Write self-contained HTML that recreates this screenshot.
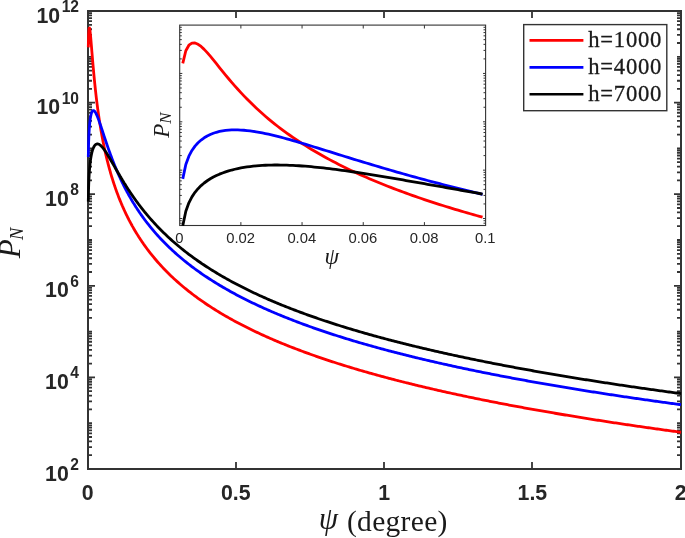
<!DOCTYPE html>
<html lang="en"><head><meta charset="utf-8"><title>P_N versus psi</title>
<style>html,body{margin:0;padding:0;background:#fff}svg{display:block}.tk{font-family:"Liberation Sans",Arial,sans-serif;font-weight:bold;font-size:21.3px;fill:#262626}.sup{font-size:15.6px}.itk{font-family:"Liberation Sans",Arial,sans-serif;font-size:14.8px;fill:#262626}.ser{font-family:"Liberation Serif","DejaVu Serif",serif;fill:#1a1a1a}</style></head><body>
<svg width="685" height="538" viewBox="0 0 685 538">
<rect width="685" height="538" fill="#fff"/>
<path d="M88.00,455.21 h4.00 M681.00,455.21 h-4.00 M88.00,447.15 h4.00 M681.00,447.15 h-4.00 M88.00,441.43 h4.00 M681.00,441.43 h-4.00 M88.00,436.99 h4.00 M681.00,436.99 h-4.00 M88.00,433.36 h4.00 M681.00,433.36 h-4.00 M88.00,430.29 h4.00 M681.00,430.29 h-4.00 M88.00,427.64 h4.00 M681.00,427.64 h-4.00 M88.00,425.30 h4.00 M681.00,425.30 h-4.00 M88.00,423.20 h4.00 M681.00,423.20 h-4.00 M88.00,409.41 h4.00 M681.00,409.41 h-4.00 M88.00,401.35 h4.00 M681.00,401.35 h-4.00 M88.00,395.63 h4.00 M681.00,395.63 h-4.00 M88.00,391.19 h4.00 M681.00,391.19 h-4.00 M88.00,387.56 h4.00 M681.00,387.56 h-4.00 M88.00,384.49 h4.00 M681.00,384.49 h-4.00 M88.00,381.84 h4.00 M681.00,381.84 h-4.00 M88.00,379.50 h4.00 M681.00,379.50 h-4.00 M88.00,377.40 h7.00 M681.00,377.40 h-7.00 M88.00,363.61 h4.00 M681.00,363.61 h-4.00 M88.00,355.55 h4.00 M681.00,355.55 h-4.00 M88.00,349.83 h4.00 M681.00,349.83 h-4.00 M88.00,345.39 h4.00 M681.00,345.39 h-4.00 M88.00,341.76 h4.00 M681.00,341.76 h-4.00 M88.00,338.69 h4.00 M681.00,338.69 h-4.00 M88.00,336.04 h4.00 M681.00,336.04 h-4.00 M88.00,333.70 h4.00 M681.00,333.70 h-4.00 M88.00,331.60 h4.00 M681.00,331.60 h-4.00 M88.00,317.81 h4.00 M681.00,317.81 h-4.00 M88.00,309.75 h4.00 M681.00,309.75 h-4.00 M88.00,304.03 h4.00 M681.00,304.03 h-4.00 M88.00,299.59 h4.00 M681.00,299.59 h-4.00 M88.00,295.96 h4.00 M681.00,295.96 h-4.00 M88.00,292.89 h4.00 M681.00,292.89 h-4.00 M88.00,290.24 h4.00 M681.00,290.24 h-4.00 M88.00,287.90 h4.00 M681.00,287.90 h-4.00 M88.00,285.80 h7.00 M681.00,285.80 h-7.00 M88.00,272.01 h4.00 M681.00,272.01 h-4.00 M88.00,263.95 h4.00 M681.00,263.95 h-4.00 M88.00,258.23 h4.00 M681.00,258.23 h-4.00 M88.00,253.79 h4.00 M681.00,253.79 h-4.00 M88.00,250.16 h4.00 M681.00,250.16 h-4.00 M88.00,247.09 h4.00 M681.00,247.09 h-4.00 M88.00,244.44 h4.00 M681.00,244.44 h-4.00 M88.00,242.10 h4.00 M681.00,242.10 h-4.00 M88.00,240.00 h4.00 M681.00,240.00 h-4.00 M88.00,226.21 h4.00 M681.00,226.21 h-4.00 M88.00,218.15 h4.00 M681.00,218.15 h-4.00 M88.00,212.43 h4.00 M681.00,212.43 h-4.00 M88.00,207.99 h4.00 M681.00,207.99 h-4.00 M88.00,204.36 h4.00 M681.00,204.36 h-4.00 M88.00,201.29 h4.00 M681.00,201.29 h-4.00 M88.00,198.64 h4.00 M681.00,198.64 h-4.00 M88.00,196.30 h4.00 M681.00,196.30 h-4.00 M88.00,194.20 h7.00 M681.00,194.20 h-7.00 M88.00,180.41 h4.00 M681.00,180.41 h-4.00 M88.00,172.35 h4.00 M681.00,172.35 h-4.00 M88.00,166.63 h4.00 M681.00,166.63 h-4.00 M88.00,162.19 h4.00 M681.00,162.19 h-4.00 M88.00,158.56 h4.00 M681.00,158.56 h-4.00 M88.00,155.49 h4.00 M681.00,155.49 h-4.00 M88.00,152.84 h4.00 M681.00,152.84 h-4.00 M88.00,150.50 h4.00 M681.00,150.50 h-4.00 M88.00,148.40 h4.00 M681.00,148.40 h-4.00 M88.00,134.61 h4.00 M681.00,134.61 h-4.00 M88.00,126.55 h4.00 M681.00,126.55 h-4.00 M88.00,120.83 h4.00 M681.00,120.83 h-4.00 M88.00,116.39 h4.00 M681.00,116.39 h-4.00 M88.00,112.76 h4.00 M681.00,112.76 h-4.00 M88.00,109.69 h4.00 M681.00,109.69 h-4.00 M88.00,107.04 h4.00 M681.00,107.04 h-4.00 M88.00,104.70 h4.00 M681.00,104.70 h-4.00 M88.00,102.60 h7.00 M681.00,102.60 h-7.00 M88.00,88.81 h4.00 M681.00,88.81 h-4.00 M88.00,80.75 h4.00 M681.00,80.75 h-4.00 M88.00,75.03 h4.00 M681.00,75.03 h-4.00 M88.00,70.59 h4.00 M681.00,70.59 h-4.00 M88.00,66.96 h4.00 M681.00,66.96 h-4.00 M88.00,63.89 h4.00 M681.00,63.89 h-4.00 M88.00,61.24 h4.00 M681.00,61.24 h-4.00 M88.00,58.90 h4.00 M681.00,58.90 h-4.00 M88.00,56.80 h4.00 M681.00,56.80 h-4.00 M88.00,43.01 h4.00 M681.00,43.01 h-4.00 M88.00,34.95 h4.00 M681.00,34.95 h-4.00 M88.00,29.23 h4.00 M681.00,29.23 h-4.00 M88.00,24.79 h4.00 M681.00,24.79 h-4.00 M88.00,21.16 h4.00 M681.00,21.16 h-4.00 M88.00,18.09 h4.00 M681.00,18.09 h-4.00 M88.00,15.44 h4.00 M681.00,15.44 h-4.00 M88.00,13.10 h4.00 M681.00,13.10 h-4.00 M236.00,469.00 v-7.00 M236.00,11.00 v7.00 M384.00,469.00 v-7.00 M384.00,11.00 v7.00 M532.00,469.00 v-7.00 M532.00,11.00 v7.00" stroke="#333333" stroke-width="1.80" fill="none"/>
<rect x="88.00" y="11.00" width="593.00" height="458.00" fill="none" stroke="#333333" stroke-width="2"/>
<g fill="none" stroke-width="2.8" stroke-linejoin="round" stroke-linecap="butt">
<path d="M88.30,47.40 L88.59,35.37 L88.89,30.11 L89.19,28.06 L89.48,27.98 L89.78,29.21 L90.08,31.33 L90.37,34.05 L90.67,37.18 L90.97,40.55 L91.26,44.08 L91.56,47.68 L91.85,51.30 L92.15,54.90 L92.45,58.46 L92.74,61.96 L93.04,65.38 L93.34,68.72 L93.63,71.98 L93.93,75.15 L94.23,78.24 L94.52,81.24 L94.82,84.16 L95.12,87.00 L95.41,89.76 L95.71,92.44 L96.01,95.05 L96.30,97.59 L96.60,100.06 L96.89,102.46 L97.19,104.81 L97.49,107.09 L97.78,109.32 L98.08,111.49 L98.38,113.61 L98.67,115.68 L98.97,117.70 L99.27,119.68 L99.56,121.61 L99.86,123.49 L100.16,125.34 L100.45,127.15 L100.75,128.92 L101.05,130.65 L101.34,132.35 L101.64,134.02 L101.94,135.65 L102.23,137.25 L102.53,138.82 L102.83,140.37 L103.12,141.88 L103.42,143.37 L103.71,144.83 L104.01,146.26 L104.31,147.67 L104.60,149.06 L104.90,150.42 L105.20,151.77 L105.49,153.09 L105.79,154.38 L106.09,155.66 L106.38,156.92 L106.68,158.16 L106.98,159.38 L107.27,160.59 L107.57,161.77 L107.87,162.94 L108.16,164.10 L108.46,165.23 L108.75,166.35 L109.05,167.46 L109.35,168.55 L109.64,169.63 L109.94,170.69 L110.24,171.74 L110.53,172.77 L110.83,173.79 L111.13,174.80 L111.42,175.80 L111.72,176.79 L112.02,177.76 L112.31,178.72 L112.61,179.67 L112.91,180.61 L113.20,181.54 L113.50,182.45 L113.80,183.36 L114.09,184.26 L114.39,185.15 L114.69,186.02 L114.98,186.89 L115.28,187.75 L115.57,188.60 L115.87,189.44 L116.17,190.27 L116.46,191.10 L116.76,191.91 L117.06,192.72 L117.35,193.52 L117.65,194.31 L117.95,195.09 L118.24,195.87 L118.54,196.64 L118.84,197.40 L119.13,198.16 L119.43,198.90 L119.73,199.64 L120.02,200.38 L120.32,201.10 L120.62,201.82 L120.91,202.54 L121.21,203.25 L121.50,203.95 L121.80,204.64 L122.10,205.33 L122.39,206.02 L122.69,206.69 L122.99,207.37 L123.28,208.03 L123.58,208.69 L123.88,209.35 L124.17,210.00 L124.47,210.64 L124.77,211.28 L125.06,211.92 L125.36,212.55 L125.66,213.17 L125.95,213.79 L126.25,214.41 L126.55,215.02 L126.84,215.63 L127.14,216.23 L127.43,216.82 L127.73,217.42 L128.03,218.00 L128.32,218.59 L128.62,219.17 L128.92,219.74 L129.21,220.32 L129.51,220.88 L129.81,221.45 L130.10,222.01 L130.40,222.56 L130.70,223.11 L130.99,223.66 L131.29,224.20 L131.59,224.75 L131.88,225.28 L132.18,225.82 L132.47,226.35 L132.77,226.87 L133.07,227.39 L133.36,227.91 L133.66,228.43 L133.96,228.94 L134.25,229.45 L134.55,229.96 L134.85,230.46 L135.14,230.96 L135.44,231.46 L135.74,231.95 L136.03,232.44 L136.33,232.93 L136.63,233.42 L136.92,233.90 L137.22,234.38 L137.52,234.85 L137.81,235.33 L138.11,235.80 L138.41,236.26 L138.70,236.73 L139.00,237.19 L139.29,237.65 L139.59,238.11 L139.89,238.56 L140.18,239.01 L140.48,239.46 L140.78,239.91 L141.07,240.35 L141.37,240.80 L141.67,241.24 L141.96,241.67 L142.26,242.11 L142.56,242.54 L142.85,242.97 L143.15,243.40 L143.45,243.82 L143.74,244.25 L144.04,244.67 L144.34,245.08 L144.63,245.50 L144.93,245.92 L145.22,246.33 L145.52,246.74 L145.82,247.15 L146.11,247.55 L146.41,247.96 L146.71,248.36 L147.00,248.76 L147.30,249.15 L148.78,251.11 L150.27,253.03 L151.75,254.89 L153.23,256.72 L154.71,258.50 L156.19,260.25 L157.68,261.96 L159.16,263.63 L160.64,265.27 L162.12,266.87 L163.61,268.44 L165.09,269.99 L166.57,271.50 L168.06,272.99 L169.54,274.44 L171.02,275.88 L172.50,277.28 L173.99,278.66 L175.47,280.02 L176.95,281.36 L178.43,282.67 L179.92,283.96 L181.40,285.24 L182.88,286.49 L184.36,287.72 L185.85,288.93 L187.33,290.13 L188.81,291.31 L190.29,292.47 L191.78,293.61 L193.26,294.74 L194.74,295.85 L196.22,296.95 L197.71,298.03 L199.19,299.10 L200.67,300.15 L202.15,301.19 L203.64,302.21 L205.12,303.23 L206.60,304.23 L208.08,305.21 L209.57,306.19 L211.05,307.15 L212.53,308.11 L214.01,309.05 L215.50,309.98 L216.98,310.90 L218.46,311.81 L219.94,312.70 L221.43,313.59 L222.91,314.47 L224.39,315.34 L225.87,316.20 L227.36,317.05 L228.84,317.89 L230.32,318.73 L231.80,319.55 L233.29,320.36 L234.77,321.17 L236.25,321.97 L237.73,322.76 L239.22,323.55 L240.70,324.32 L242.18,325.09 L243.66,325.85 L245.15,326.61 L246.63,327.35 L248.11,328.09 L249.59,328.83 L251.08,329.55 L252.56,330.27 L254.04,330.98 L255.52,331.69 L257.01,332.39 L258.49,333.09 L259.97,333.78 L261.45,334.46 L262.94,335.14 L264.42,335.81 L265.90,336.47 L267.38,337.13 L268.87,337.79 L270.35,338.44 L271.83,339.08 L273.31,339.72 L274.80,340.35 L276.28,340.98 L277.76,341.61 L279.24,342.23 L280.73,342.84 L282.21,343.45 L283.69,344.05 L285.17,344.65 L286.66,345.25 L288.14,345.84 L289.62,346.43 L291.10,347.01 L292.59,347.59 L294.07,348.16 L295.55,348.73 L297.03,349.30 L298.52,349.86 L300.00,350.42 L301.48,350.98 L302.96,351.53 L304.45,352.07 L305.93,352.62 L307.41,353.15 L308.89,353.69 L310.38,354.22 L311.86,354.75 L313.34,355.28 L314.82,355.80 L316.31,356.32 L317.79,356.83 L319.27,357.34 L320.75,357.85 L322.24,358.36 L323.72,358.86 L325.20,359.36 L326.68,359.85 L328.17,360.34 L329.65,360.83 L331.13,361.32 L332.61,361.80 L334.10,362.28 L335.58,362.76 L337.06,363.24 L338.54,363.71 L340.03,364.18 L341.51,364.65 L342.99,365.11 L344.47,365.57 L345.96,366.03 L347.44,366.49 L348.92,366.94 L350.40,367.39 L351.89,367.84 L353.37,368.28 L354.85,368.73 L356.33,369.17 L357.82,369.61 L359.30,370.04 L360.78,370.47 L362.26,370.91 L363.75,371.33 L365.23,371.76 L366.71,372.19 L368.19,372.61 L369.68,373.03 L371.16,373.44 L372.64,373.86 L374.12,374.27 L375.61,374.68 L377.09,375.09 L378.57,375.50 L380.05,375.91 L381.54,376.31 L383.02,376.71 L384.50,377.11 L385.98,377.50 L387.47,377.90 L388.95,378.29 L390.43,378.68 L391.91,379.07 L393.40,379.46 L394.88,379.84 L396.36,380.23 L397.84,380.61 L399.33,380.99 L400.81,381.37 L402.29,381.74 L403.77,382.12 L405.26,382.49 L406.74,382.86 L408.22,383.23 L409.70,383.60 L411.19,383.96 L412.67,384.33 L414.15,384.69 L415.63,385.05 L417.12,385.41 L418.60,385.77 L420.08,386.12 L421.56,386.48 L423.05,386.83 L424.53,387.18 L426.01,387.53 L427.49,387.88 L428.98,388.23 L430.46,388.57 L431.94,388.92 L433.42,389.26 L434.91,389.60 L436.39,389.94 L437.87,390.28 L439.35,390.61 L440.84,390.95 L442.32,391.28 L443.80,391.61 L445.28,391.94 L446.77,392.27 L448.25,392.60 L449.73,392.93 L451.21,393.25 L452.70,393.58 L454.18,393.90 L455.66,394.22 L457.14,394.54 L458.63,394.86 L460.11,395.18 L461.59,395.49 L463.07,395.81 L464.56,396.12 L466.04,396.44 L467.52,396.75 L469.00,397.06 L470.49,397.37 L471.97,397.67 L473.45,397.98 L474.93,398.29 L476.42,398.59 L477.90,398.89 L479.38,399.20 L480.86,399.50 L482.35,399.80 L483.83,400.09 L485.31,400.39 L486.79,400.69 L488.28,400.98 L489.76,401.28 L491.24,401.57 L492.72,401.86 L494.21,402.15 L495.69,402.44 L497.17,402.73 L498.65,403.02 L500.14,403.31 L501.62,403.59 L503.10,403.88 L504.58,404.16 L506.07,404.44 L507.55,404.72 L509.03,405.01 L510.51,405.28 L512.00,405.56 L513.48,405.84 L514.96,406.12 L516.44,406.39 L517.93,406.67 L519.41,406.94 L520.89,407.22 L522.37,407.49 L523.86,407.76 L525.34,408.03 L526.82,408.30 L528.30,408.57 L529.79,408.83 L531.27,409.10 L532.75,409.37 L534.23,409.63 L535.72,409.89 L537.20,410.16 L538.68,410.42 L540.16,410.68 L541.65,410.94 L543.13,411.20 L544.61,411.46 L546.09,411.72 L547.58,411.97 L549.06,412.23 L550.54,412.49 L552.02,412.74 L553.51,412.99 L554.99,413.25 L556.47,413.50 L557.95,413.75 L559.44,414.00 L560.92,414.25 L562.40,414.50 L563.88,414.75 L565.37,415.00 L566.85,415.24 L568.33,415.49 L569.81,415.73 L571.30,415.98 L572.78,416.22 L574.26,416.46 L575.74,416.71 L577.23,416.95 L578.71,417.19 L580.19,417.43 L581.67,417.67 L583.16,417.91 L584.64,418.14 L586.12,418.38 L587.60,418.62 L589.09,418.85 L590.57,419.09 L592.05,419.32 L593.53,419.56 L595.02,419.79 L596.50,420.02 L597.98,420.25 L599.46,420.48 L600.95,420.72 L602.43,420.94 L603.91,421.17 L605.39,421.40 L606.88,421.63 L608.36,421.86 L609.84,422.08 L611.32,422.31 L612.81,422.53 L614.29,422.76 L615.77,422.98 L617.25,423.21 L618.74,423.43 L620.22,423.65 L621.70,423.87 L623.18,424.09 L624.67,424.31 L626.15,424.53 L627.63,424.75 L629.11,424.97 L630.60,425.19 L632.08,425.40 L633.56,425.62 L635.04,425.84 L636.53,426.05 L638.01,426.27 L639.49,426.48 L640.97,426.69 L642.46,426.91 L643.94,427.12 L645.42,427.33 L646.90,427.54 L648.39,427.75 L649.87,427.96 L651.35,428.17 L652.83,428.38 L654.32,428.59 L655.80,428.80 L657.28,429.01 L658.76,429.21 L660.25,429.42 L661.73,429.62 L663.21,429.83 L664.69,430.04 L666.18,430.24 L667.66,430.44 L669.14,430.65 L670.62,430.85 L672.11,431.05 L673.59,431.25 L675.07,431.45 L676.55,431.65 L678.04,431.85 L679.52,432.05 L681.00,432.25" stroke="#ff0000"/>
<path d="M88.30,157.13 L88.59,143.46 L88.89,135.58 L89.19,130.12 L89.48,126.02 L89.78,122.80 L90.08,120.21 L90.37,118.09 L90.67,116.36 L90.97,114.93 L91.26,113.77 L91.56,112.83 L91.85,112.08 L92.15,111.50 L92.45,111.08 L92.74,110.78 L93.04,110.61 L93.34,110.54 L93.63,110.58 L93.93,110.70 L94.23,110.90 L94.52,111.18 L94.82,111.53 L95.12,111.93 L95.41,112.39 L95.71,112.90 L96.01,113.45 L96.30,114.05 L96.60,114.68 L96.89,115.35 L97.19,116.05 L97.49,116.77 L97.78,117.52 L98.08,118.30 L98.38,119.09 L98.67,119.90 L98.97,120.72 L99.27,121.56 L99.56,122.42 L99.86,123.28 L100.16,124.15 L100.45,125.03 L100.75,125.91 L101.05,126.80 L101.34,127.70 L101.64,128.60 L101.94,129.50 L102.23,130.40 L102.53,131.31 L102.83,132.21 L103.12,133.12 L103.42,134.02 L103.71,134.93 L104.01,135.83 L104.31,136.73 L104.60,137.62 L104.90,138.52 L105.20,139.41 L105.49,140.30 L105.79,141.18 L106.09,142.06 L106.38,142.94 L106.68,143.81 L106.98,144.68 L107.27,145.54 L107.57,146.40 L107.87,147.25 L108.16,148.10 L108.46,148.94 L108.75,149.78 L109.05,150.62 L109.35,151.44 L109.64,152.27 L109.94,153.08 L110.24,153.90 L110.53,154.70 L110.83,155.50 L111.13,156.30 L111.42,157.09 L111.72,157.88 L112.02,158.66 L112.31,159.43 L112.61,160.20 L112.91,160.96 L113.20,161.72 L113.50,162.47 L113.80,163.22 L114.09,163.96 L114.39,164.70 L114.69,165.43 L114.98,166.16 L115.28,166.88 L115.57,167.60 L115.87,168.31 L116.17,169.02 L116.46,169.72 L116.76,170.42 L117.06,171.11 L117.35,171.80 L117.65,172.48 L117.95,173.16 L118.24,173.83 L118.54,174.50 L118.84,175.16 L119.13,175.82 L119.43,176.47 L119.73,177.12 L120.02,177.77 L120.32,178.41 L120.62,179.05 L120.91,179.68 L121.21,180.31 L121.50,180.93 L121.80,181.55 L122.10,182.17 L122.39,182.78 L122.69,183.39 L122.99,183.99 L123.28,184.59 L123.58,185.18 L123.88,185.78 L124.17,186.36 L124.47,186.95 L124.77,187.53 L125.06,188.11 L125.36,188.68 L125.66,189.25 L125.95,189.81 L126.25,190.37 L126.55,190.93 L126.84,191.49 L127.14,192.04 L127.43,192.59 L127.73,193.13 L128.03,193.67 L128.32,194.21 L128.62,194.75 L128.92,195.28 L129.21,195.81 L129.51,196.33 L129.81,196.85 L130.10,197.37 L130.40,197.89 L130.70,198.40 L130.99,198.91 L131.29,199.42 L131.59,199.92 L131.88,200.42 L132.18,200.92 L132.47,201.42 L132.77,201.91 L133.07,202.40 L133.36,202.89 L133.66,203.37 L133.96,203.85 L134.25,204.33 L134.55,204.81 L134.85,205.28 L135.14,205.75 L135.44,206.22 L135.74,206.68 L136.03,207.15 L136.33,207.61 L136.63,208.06 L136.92,208.52 L137.22,208.97 L137.52,209.42 L137.81,209.87 L138.11,210.32 L138.41,210.76 L138.70,211.20 L139.00,211.64 L139.29,212.08 L139.59,212.51 L139.89,212.95 L140.18,213.38 L140.48,213.80 L140.78,214.23 L141.07,214.65 L141.37,215.08 L141.67,215.50 L141.96,215.91 L142.26,216.33 L142.56,216.74 L142.85,217.15 L143.15,217.56 L143.45,217.97 L143.74,218.37 L144.04,218.78 L144.34,219.18 L144.63,219.58 L144.93,219.97 L145.22,220.37 L145.52,220.76 L145.82,221.16 L146.11,221.55 L146.41,221.93 L146.71,222.32 L147.00,222.71 L147.30,223.09 L148.78,224.98 L150.27,226.82 L151.75,228.63 L153.23,230.40 L154.71,232.13 L156.19,233.82 L157.68,235.48 L159.16,237.11 L160.64,238.70 L162.12,240.27 L163.61,241.80 L165.09,243.31 L166.57,244.79 L168.06,246.25 L169.54,247.67 L171.02,249.08 L172.50,250.46 L173.99,251.81 L175.47,253.15 L176.95,254.46 L178.43,255.75 L179.92,257.02 L181.40,258.28 L182.88,259.51 L184.36,260.72 L185.85,261.92 L187.33,263.10 L188.81,264.26 L190.29,265.40 L191.78,266.53 L193.26,267.65 L194.74,268.75 L196.22,269.83 L197.71,270.90 L199.19,271.96 L200.67,273.00 L202.15,274.03 L203.64,275.04 L205.12,276.04 L206.60,277.03 L208.08,278.01 L209.57,278.98 L211.05,279.93 L212.53,280.88 L214.01,281.81 L215.50,282.73 L216.98,283.65 L218.46,284.55 L219.94,285.44 L221.43,286.32 L222.91,287.19 L224.39,288.06 L225.87,288.91 L227.36,289.75 L228.84,290.59 L230.32,291.42 L231.80,292.23 L233.29,293.05 L234.77,293.85 L236.25,294.64 L237.73,295.43 L239.22,296.21 L240.70,296.98 L242.18,297.74 L243.66,298.50 L245.15,299.25 L246.63,299.99 L248.11,300.73 L249.59,301.46 L251.08,302.18 L252.56,302.90 L254.04,303.61 L255.52,304.31 L257.01,305.01 L258.49,305.70 L259.97,306.38 L261.45,307.06 L262.94,307.74 L264.42,308.41 L265.90,309.07 L267.38,309.73 L268.87,310.38 L270.35,311.02 L271.83,311.67 L273.31,312.30 L274.80,312.93 L276.28,313.56 L277.76,314.18 L279.24,314.80 L280.73,315.41 L282.21,316.02 L283.69,316.62 L285.17,317.22 L286.66,317.81 L288.14,318.40 L289.62,318.99 L291.10,319.57 L292.59,320.14 L294.07,320.72 L295.55,321.28 L297.03,321.85 L298.52,322.41 L300.00,322.97 L301.48,323.52 L302.96,324.07 L304.45,324.61 L305.93,325.15 L307.41,325.69 L308.89,326.23 L310.38,326.76 L311.86,327.28 L313.34,327.81 L314.82,328.33 L316.31,328.84 L317.79,329.36 L319.27,329.87 L320.75,330.38 L322.24,330.88 L323.72,331.38 L325.20,331.88 L326.68,332.37 L328.17,332.86 L329.65,333.35 L331.13,333.84 L332.61,334.32 L334.10,334.80 L335.58,335.28 L337.06,335.75 L338.54,336.22 L340.03,336.69 L341.51,337.16 L342.99,337.62 L344.47,338.08 L345.96,338.54 L347.44,338.99 L348.92,339.44 L350.40,339.89 L351.89,340.34 L353.37,340.79 L354.85,341.23 L356.33,341.67 L357.82,342.10 L359.30,342.54 L360.78,342.97 L362.26,343.40 L363.75,343.83 L365.23,344.26 L366.71,344.68 L368.19,345.10 L369.68,345.52 L371.16,345.94 L372.64,346.35 L374.12,346.77 L375.61,347.18 L377.09,347.58 L378.57,347.99 L380.05,348.39 L381.54,348.80 L383.02,349.20 L384.50,349.59 L385.98,349.99 L387.47,350.39 L388.95,350.78 L390.43,351.17 L391.91,351.56 L393.40,351.94 L394.88,352.33 L396.36,352.71 L397.84,353.09 L399.33,353.47 L400.81,353.85 L402.29,354.22 L403.77,354.60 L405.26,354.97 L406.74,355.34 L408.22,355.71 L409.70,356.08 L411.19,356.44 L412.67,356.80 L414.15,357.17 L415.63,357.53 L417.12,357.89 L418.60,358.24 L420.08,358.60 L421.56,358.95 L423.05,359.30 L424.53,359.66 L426.01,360.00 L427.49,360.35 L428.98,360.70 L430.46,361.04 L431.94,361.39 L433.42,361.73 L434.91,362.07 L436.39,362.41 L437.87,362.75 L439.35,363.08 L440.84,363.42 L442.32,363.75 L443.80,364.08 L445.28,364.41 L446.77,364.74 L448.25,365.07 L449.73,365.39 L451.21,365.72 L452.70,366.04 L454.18,366.37 L455.66,366.69 L457.14,367.01 L458.63,367.33 L460.11,367.64 L461.59,367.96 L463.07,368.27 L464.56,368.59 L466.04,368.90 L467.52,369.21 L469.00,369.52 L470.49,369.83 L471.97,370.14 L473.45,370.44 L474.93,370.75 L476.42,371.05 L477.90,371.35 L479.38,371.66 L480.86,371.96 L482.35,372.26 L483.83,372.55 L485.31,372.85 L486.79,373.15 L488.28,373.44 L489.76,373.74 L491.24,374.03 L492.72,374.32 L494.21,374.61 L495.69,374.90 L497.17,375.19 L498.65,375.48 L500.14,375.76 L501.62,376.05 L503.10,376.33 L504.58,376.62 L506.07,376.90 L507.55,377.18 L509.03,377.46 L510.51,377.74 L512.00,378.02 L513.48,378.30 L514.96,378.57 L516.44,378.85 L517.93,379.12 L519.41,379.40 L520.89,379.67 L522.37,379.94 L523.86,380.21 L525.34,380.48 L526.82,380.75 L528.30,381.02 L529.79,381.29 L531.27,381.55 L532.75,381.82 L534.23,382.08 L535.72,382.35 L537.20,382.61 L538.68,382.87 L540.16,383.13 L541.65,383.39 L543.13,383.65 L544.61,383.91 L546.09,384.17 L547.58,384.43 L549.06,384.68 L550.54,384.94 L552.02,385.19 L553.51,385.44 L554.99,385.70 L556.47,385.95 L557.95,386.20 L559.44,386.45 L560.92,386.70 L562.40,386.95 L563.88,387.20 L565.37,387.45 L566.85,387.69 L568.33,387.94 L569.81,388.18 L571.30,388.43 L572.78,388.67 L574.26,388.91 L575.74,389.16 L577.23,389.40 L578.71,389.64 L580.19,389.88 L581.67,390.12 L583.16,390.35 L584.64,390.59 L586.12,390.83 L587.60,391.07 L589.09,391.30 L590.57,391.54 L592.05,391.77 L593.53,392.00 L595.02,392.24 L596.50,392.47 L597.98,392.70 L599.46,392.93 L600.95,393.16 L602.43,393.39 L603.91,393.62 L605.39,393.85 L606.88,394.08 L608.36,394.30 L609.84,394.53 L611.32,394.75 L612.81,394.98 L614.29,395.20 L615.77,395.43 L617.25,395.65 L618.74,395.87 L620.22,396.09 L621.70,396.32 L623.18,396.54 L624.67,396.76 L626.15,396.98 L627.63,397.19 L629.11,397.41 L630.60,397.63 L632.08,397.85 L633.56,398.06 L635.04,398.28 L636.53,398.49 L638.01,398.71 L639.49,398.92 L640.97,399.14 L642.46,399.35 L643.94,399.56 L645.42,399.77 L646.90,399.98 L648.39,400.20 L649.87,400.41 L651.35,400.62 L652.83,400.82 L654.32,401.03 L655.80,401.24 L657.28,401.45 L658.76,401.65 L660.25,401.86 L661.73,402.07 L663.21,402.27 L664.69,402.48 L666.18,402.68 L667.66,402.88 L669.14,403.09 L670.62,403.29 L672.11,403.49 L673.59,403.69 L675.07,403.90 L676.55,404.10 L678.04,404.30 L679.52,404.50 L681.00,404.69" stroke="#0000ff"/>
<path d="M88.30,201.63 L88.59,187.88 L88.89,179.88 L89.19,174.24 L89.48,169.91 L89.78,166.42 L90.08,163.51 L90.37,161.04 L90.67,158.90 L90.97,157.04 L91.26,155.39 L91.56,153.94 L91.85,152.64 L92.15,151.49 L92.45,150.45 L92.74,149.53 L93.04,148.71 L93.34,147.97 L93.63,147.32 L93.93,146.74 L94.23,146.22 L94.52,145.77 L94.82,145.38 L95.12,145.05 L95.41,144.76 L95.71,144.52 L96.01,144.33 L96.30,144.18 L96.60,144.06 L96.89,143.99 L97.19,143.95 L97.49,143.94 L97.78,143.96 L98.08,144.01 L98.38,144.09 L98.67,144.20 L98.97,144.33 L99.27,144.49 L99.56,144.67 L99.86,144.87 L100.16,145.08 L100.45,145.32 L100.75,145.58 L101.05,145.85 L101.34,146.14 L101.64,146.45 L101.94,146.76 L102.23,147.10 L102.53,147.44 L102.83,147.80 L103.12,148.17 L103.42,148.55 L103.71,148.94 L104.01,149.34 L104.31,149.75 L104.60,150.17 L104.90,150.59 L105.20,151.03 L105.49,151.47 L105.79,151.91 L106.09,152.37 L106.38,152.83 L106.68,153.29 L106.98,153.76 L107.27,154.24 L107.57,154.72 L107.87,155.20 L108.16,155.69 L108.46,156.18 L108.75,156.67 L109.05,157.17 L109.35,157.67 L109.64,158.17 L109.94,158.67 L110.24,159.18 L110.53,159.69 L110.83,160.20 L111.13,160.71 L111.42,161.22 L111.72,161.74 L112.02,162.25 L112.31,162.76 L112.61,163.28 L112.91,163.80 L113.20,164.31 L113.50,164.83 L113.80,165.35 L114.09,165.87 L114.39,166.38 L114.69,166.90 L114.98,167.42 L115.28,167.93 L115.57,168.45 L115.87,168.96 L116.17,169.48 L116.46,169.99 L116.76,170.51 L117.06,171.02 L117.35,171.53 L117.65,172.04 L117.95,172.55 L118.24,173.06 L118.54,173.56 L118.84,174.07 L119.13,174.58 L119.43,175.08 L119.73,175.58 L120.02,176.08 L120.32,176.58 L120.62,177.08 L120.91,177.58 L121.21,178.07 L121.50,178.57 L121.80,179.06 L122.10,179.55 L122.39,180.04 L122.69,180.52 L122.99,181.01 L123.28,181.49 L123.58,181.98 L123.88,182.46 L124.17,182.94 L124.47,183.41 L124.77,183.89 L125.06,184.37 L125.36,184.84 L125.66,185.31 L125.95,185.78 L126.25,186.24 L126.55,186.71 L126.84,187.17 L127.14,187.64 L127.43,188.10 L127.73,188.55 L128.03,189.01 L128.32,189.47 L128.62,189.92 L128.92,190.37 L129.21,190.82 L129.51,191.27 L129.81,191.72 L130.10,192.16 L130.40,192.60 L130.70,193.04 L130.99,193.48 L131.29,193.92 L131.59,194.36 L131.88,194.79 L132.18,195.22 L132.47,195.65 L132.77,196.08 L133.07,196.51 L133.36,196.93 L133.66,197.36 L133.96,197.78 L134.25,198.20 L134.55,198.62 L134.85,199.04 L135.14,199.45 L135.44,199.86 L135.74,200.28 L136.03,200.69 L136.33,201.10 L136.63,201.50 L136.92,201.91 L137.22,202.31 L137.52,202.71 L137.81,203.11 L138.11,203.51 L138.41,203.91 L138.70,204.31 L139.00,204.70 L139.29,205.09 L139.59,205.48 L139.89,205.87 L140.18,206.26 L140.48,206.65 L140.78,207.03 L141.07,207.41 L141.37,207.80 L141.67,208.18 L141.96,208.55 L142.26,208.93 L142.56,209.31 L142.85,209.68 L143.15,210.05 L143.45,210.42 L143.74,210.79 L144.04,211.16 L144.34,211.53 L144.63,211.90 L144.93,212.26 L145.22,212.62 L145.52,212.98 L145.82,213.34 L146.11,213.70 L146.41,214.06 L146.71,214.41 L147.00,214.77 L147.30,215.12 L148.78,216.87 L150.27,218.58 L151.75,220.26 L153.23,221.91 L154.71,223.53 L156.19,225.12 L157.68,226.68 L159.16,228.22 L160.64,229.73 L162.12,231.21 L163.61,232.67 L165.09,234.10 L166.57,235.51 L168.06,236.90 L169.54,238.27 L171.02,239.61 L172.50,240.93 L173.99,242.24 L175.47,243.52 L176.95,244.79 L178.43,246.03 L179.92,247.26 L181.40,248.47 L182.88,249.66 L184.36,250.84 L185.85,252.00 L187.33,253.14 L188.81,254.27 L190.29,255.38 L191.78,256.48 L193.26,257.57 L194.74,258.64 L196.22,259.69 L197.71,260.74 L199.19,261.77 L200.67,262.78 L202.15,263.79 L203.64,264.78 L205.12,265.76 L206.60,266.73 L208.08,267.69 L209.57,268.64 L211.05,269.58 L212.53,270.50 L214.01,271.42 L215.50,272.32 L216.98,273.22 L218.46,274.10 L219.94,274.98 L221.43,275.85 L222.91,276.70 L224.39,277.55 L225.87,278.39 L227.36,279.23 L228.84,280.05 L230.32,280.86 L231.80,281.67 L233.29,282.47 L234.77,283.26 L236.25,284.05 L237.73,284.82 L239.22,285.59 L240.70,286.35 L242.18,287.11 L243.66,287.85 L245.15,288.59 L246.63,289.33 L248.11,290.06 L249.59,290.78 L251.08,291.49 L252.56,292.20 L254.04,292.90 L255.52,293.60 L257.01,294.29 L258.49,294.97 L259.97,295.65 L261.45,296.32 L262.94,296.99 L264.42,297.65 L265.90,298.31 L267.38,298.96 L268.87,299.61 L270.35,300.25 L271.83,300.88 L273.31,301.51 L274.80,302.14 L276.28,302.76 L277.76,303.38 L279.24,303.99 L280.73,304.60 L282.21,305.20 L283.69,305.80 L285.17,306.39 L286.66,306.98 L288.14,307.56 L289.62,308.15 L291.10,308.72 L292.59,309.29 L294.07,309.86 L295.55,310.43 L297.03,310.99 L298.52,311.54 L300.00,312.10 L301.48,312.65 L302.96,313.19 L304.45,313.73 L305.93,314.27 L307.41,314.81 L308.89,315.34 L310.38,315.86 L311.86,316.39 L313.34,316.91 L314.82,317.43 L316.31,317.94 L317.79,318.45 L319.27,318.96 L320.75,319.46 L322.24,319.96 L323.72,320.46 L325.20,320.96 L326.68,321.45 L328.17,321.94 L329.65,322.42 L331.13,322.91 L332.61,323.39 L334.10,323.86 L335.58,324.34 L337.06,324.81 L338.54,325.28 L340.03,325.74 L341.51,326.21 L342.99,326.67 L344.47,327.13 L345.96,327.58 L347.44,328.04 L348.92,328.49 L350.40,328.93 L351.89,329.38 L353.37,329.82 L354.85,330.26 L356.33,330.70 L357.82,331.14 L359.30,331.57 L360.78,332.00 L362.26,332.43 L363.75,332.86 L365.23,333.28 L366.71,333.70 L368.19,334.12 L369.68,334.54 L371.16,334.95 L372.64,335.37 L374.12,335.78 L375.61,336.19 L377.09,336.59 L378.57,337.00 L380.05,337.40 L381.54,337.80 L383.02,338.20 L384.50,338.60 L385.98,338.99 L387.47,339.39 L388.95,339.78 L390.43,340.17 L391.91,340.55 L393.40,340.94 L394.88,341.32 L396.36,341.70 L397.84,342.08 L399.33,342.46 L400.81,342.84 L402.29,343.21 L403.77,343.59 L405.26,343.96 L406.74,344.33 L408.22,344.69 L409.70,345.06 L411.19,345.42 L412.67,345.79 L414.15,346.15 L415.63,346.51 L417.12,346.86 L418.60,347.22 L420.08,347.57 L421.56,347.93 L423.05,348.28 L424.53,348.63 L426.01,348.98 L427.49,349.32 L428.98,349.67 L430.46,350.01 L431.94,350.36 L433.42,350.70 L434.91,351.04 L436.39,351.37 L437.87,351.71 L439.35,352.05 L440.84,352.38 L442.32,352.71 L443.80,353.04 L445.28,353.37 L446.77,353.70 L448.25,354.03 L449.73,354.35 L451.21,354.68 L452.70,355.00 L454.18,355.32 L455.66,355.64 L457.14,355.96 L458.63,356.28 L460.11,356.60 L461.59,356.91 L463.07,357.23 L464.56,357.54 L466.04,357.85 L467.52,358.16 L469.00,358.47 L470.49,358.78 L471.97,359.09 L473.45,359.39 L474.93,359.70 L476.42,360.00 L477.90,360.30 L479.38,360.60 L480.86,360.90 L482.35,361.20 L483.83,361.50 L485.31,361.80 L486.79,362.09 L488.28,362.39 L489.76,362.68 L491.24,362.97 L492.72,363.26 L494.21,363.55 L495.69,363.84 L497.17,364.13 L498.65,364.42 L500.14,364.70 L501.62,364.99 L503.10,365.27 L504.58,365.55 L506.07,365.84 L507.55,366.12 L509.03,366.40 L510.51,366.68 L512.00,366.95 L513.48,367.23 L514.96,367.51 L516.44,367.78 L517.93,368.06 L519.41,368.33 L520.89,368.60 L522.37,368.87 L523.86,369.14 L525.34,369.41 L526.82,369.68 L528.30,369.95 L529.79,370.22 L531.27,370.48 L532.75,370.75 L534.23,371.01 L535.72,371.27 L537.20,371.54 L538.68,371.80 L540.16,372.06 L541.65,372.32 L543.13,372.58 L544.61,372.84 L546.09,373.09 L547.58,373.35 L549.06,373.61 L550.54,373.86 L552.02,374.12 L553.51,374.37 L554.99,374.62 L556.47,374.87 L557.95,375.12 L559.44,375.37 L560.92,375.62 L562.40,375.87 L563.88,376.12 L565.37,376.37 L566.85,376.61 L568.33,376.86 L569.81,377.10 L571.30,377.35 L572.78,377.59 L574.26,377.83 L575.74,378.07 L577.23,378.31 L578.71,378.56 L580.19,378.79 L581.67,379.03 L583.16,379.27 L584.64,379.51 L586.12,379.75 L587.60,379.98 L589.09,380.22 L590.57,380.45 L592.05,380.69 L593.53,380.92 L595.02,381.15 L596.50,381.38 L597.98,381.61 L599.46,381.85 L600.95,382.08 L602.43,382.30 L603.91,382.53 L605.39,382.76 L606.88,382.99 L608.36,383.21 L609.84,383.44 L611.32,383.67 L612.81,383.89 L614.29,384.12 L615.77,384.34 L617.25,384.56 L618.74,384.78 L620.22,385.01 L621.70,385.23 L623.18,385.45 L624.67,385.67 L626.15,385.89 L627.63,386.10 L629.11,386.32 L630.60,386.54 L632.08,386.76 L633.56,386.97 L635.04,387.19 L636.53,387.40 L638.01,387.62 L639.49,387.83 L640.97,388.04 L642.46,388.26 L643.94,388.47 L645.42,388.68 L646.90,388.89 L648.39,389.10 L649.87,389.31 L651.35,389.52 L652.83,389.73 L654.32,389.94 L655.80,390.15 L657.28,390.35 L658.76,390.56 L660.25,390.77 L661.73,390.97 L663.21,391.18 L664.69,391.38 L666.18,391.59 L667.66,391.79 L669.14,391.99 L670.62,392.19 L672.11,392.40 L673.59,392.60 L675.07,392.80 L676.55,393.00 L678.04,393.20 L679.52,393.40 L681.00,393.60" stroke="#000000"/>
</g>
<text class="tk" x="79" y="22.6" text-anchor="end">10<tspan class="sup" dx="1.5" dy="-10.7">12</tspan></text>
<text class="tk" x="79" y="114.2" text-anchor="end">10<tspan class="sup" dx="1.5" dy="-10.7">10</tspan></text>
<text class="tk" x="79" y="205.8" text-anchor="end">10<tspan class="sup" dx="1.5" dy="-10.7">8</tspan></text>
<text class="tk" x="79" y="297.4" text-anchor="end">10<tspan class="sup" dx="1.5" dy="-10.7">6</tspan></text>
<text class="tk" x="79" y="389.0" text-anchor="end">10<tspan class="sup" dx="1.5" dy="-10.7">4</tspan></text>
<text class="tk" x="79" y="480.6" text-anchor="end">10<tspan class="sup" dx="1.5" dy="-10.7">2</tspan></text>
<text class="tk" x="87.6" y="499.5" text-anchor="middle">0</text>
<text class="tk" x="235.8" y="499.5" text-anchor="middle">0.5</text>
<text class="tk" x="384.1" y="499.5" text-anchor="middle">1</text>
<text class="tk" x="532.4" y="499.5" text-anchor="middle">1.5</text>
<text class="tk" x="680.6" y="499.5" text-anchor="middle">2</text>
<text class="ser" x="318.7" y="529.4" font-size="31" font-style="italic">ψ</text>
<text class="ser" x="347.0" y="530.5" font-size="29.5" letter-spacing="0.3">(degree)</text>
<g transform="translate(19.8,258.2) rotate(-90)"><text class="ser" font-style="italic" font-size="31" x="0" y="0">P</text><text class="ser" font-style="italic" font-size="18.5" x="18.3" y="3.6">N</text></g>
<rect x="179.70" y="25.10" width="305.90" height="200.40" fill="#fff" stroke="none"/>
<path d="M179.70,223.19 h2.10 M485.60,223.19 h-2.10 M179.70,220.71 h2.10 M485.60,220.71 h-2.10 M179.70,218.50 h2.60 M485.60,218.50 h-2.60 M179.70,203.95 h2.10 M485.60,203.95 h-2.10 M179.70,195.43 h2.10 M485.60,195.43 h-2.10 M179.70,189.39 h2.10 M485.60,189.39 h-2.10 M179.70,184.70 h2.10 M485.60,184.70 h-2.10 M179.70,180.88 h2.10 M485.60,180.88 h-2.10 M179.70,177.64 h2.10 M485.60,177.64 h-2.10 M179.70,174.84 h2.10 M485.60,174.84 h-2.10 M179.70,172.36 h2.10 M485.60,172.36 h-2.10 M179.70,170.15 h2.60 M485.60,170.15 h-2.60 M179.70,155.60 h2.10 M485.60,155.60 h-2.10 M179.70,147.08 h2.10 M485.60,147.08 h-2.10 M179.70,141.04 h2.10 M485.60,141.04 h-2.10 M179.70,136.35 h2.10 M485.60,136.35 h-2.10 M179.70,132.53 h2.10 M485.60,132.53 h-2.10 M179.70,129.29 h2.10 M485.60,129.29 h-2.10 M179.70,126.49 h2.10 M485.60,126.49 h-2.10 M179.70,124.01 h2.10 M485.60,124.01 h-2.10 M179.70,121.80 h2.60 M485.60,121.80 h-2.60 M179.70,107.25 h2.10 M485.60,107.25 h-2.10 M179.70,98.73 h2.10 M485.60,98.73 h-2.10 M179.70,92.69 h2.10 M485.60,92.69 h-2.10 M179.70,88.00 h2.10 M485.60,88.00 h-2.10 M179.70,84.18 h2.10 M485.60,84.18 h-2.10 M179.70,80.94 h2.10 M485.60,80.94 h-2.10 M179.70,78.14 h2.10 M485.60,78.14 h-2.10 M179.70,75.66 h2.10 M485.60,75.66 h-2.10 M179.70,73.45 h2.60 M485.60,73.45 h-2.60 M179.70,58.90 h2.10 M485.60,58.90 h-2.10 M179.70,50.38 h2.10 M485.60,50.38 h-2.10 M179.70,44.34 h2.10 M485.60,44.34 h-2.10 M179.70,39.65 h2.10 M485.60,39.65 h-2.10 M179.70,35.83 h2.10 M485.60,35.83 h-2.10 M179.70,32.59 h2.10 M485.60,32.59 h-2.10 M179.70,29.79 h2.10 M485.60,29.79 h-2.10 M179.70,27.31 h2.10 M485.60,27.31 h-2.10 M240.88,225.50 v-3.40 M240.88,25.10 v3.40 M302.06,225.50 v-3.40 M302.06,25.10 v3.40 M363.24,225.50 v-3.40 M363.24,25.10 v3.40 M424.42,225.50 v-3.40 M424.42,25.10 v3.40" stroke="#333333" stroke-width="1" fill="none"/>
<rect x="179.70" y="25.10" width="305.90" height="200.40" fill="none" stroke="#333333" stroke-width="1.1"/>
<g fill="none" stroke-width="2.8" stroke-linejoin="round" stroke-linecap="butt">
<path d="M182.76,63.40 L185.82,50.75 L188.88,45.21 L191.94,43.05 L195.00,42.97 L198.05,44.26 L201.11,46.49 L204.17,49.36 L207.23,52.65 L210.29,56.20 L213.35,59.91 L216.41,63.70 L219.47,67.51 L222.53,71.30 L225.58,75.05 L228.64,78.73 L231.70,82.33 L234.76,85.85 L237.82,89.28 L240.88,92.61 L243.94,95.86 L247.00,99.02 L250.06,102.09 L253.12,105.08 L256.18,107.98 L259.23,110.81 L262.29,113.55 L265.35,116.22 L268.41,118.82 L271.47,121.35 L274.53,123.82 L277.59,126.23 L280.65,128.57 L283.71,130.86 L286.76,133.09 L289.82,135.26 L292.88,137.39 L295.94,139.47 L299.00,141.50 L302.06,143.49 L305.12,145.43 L308.18,147.34 L311.24,149.20 L314.30,151.02 L317.36,152.81 L320.41,154.56 L323.47,156.28 L326.53,157.97 L329.59,159.62 L332.65,161.24 L335.71,162.84 L338.77,164.40 L341.83,165.94 L344.89,167.45 L347.94,168.93 L351.00,170.39 L354.06,171.83 L357.12,173.24 L360.18,174.63 L363.24,176.00 L366.30,177.34 L369.36,178.67 L372.42,179.97 L375.48,181.26 L378.53,182.53 L381.59,183.78 L384.65,185.01 L387.71,186.22 L390.77,187.41 L393.83,188.59 L396.89,189.76 L399.95,190.91 L403.01,192.04 L406.07,193.16 L409.12,194.26 L412.18,195.35 L415.24,196.42 L418.30,197.49 L421.36,198.54 L424.42,199.57 L427.48,200.60 L430.54,201.61 L433.60,202.61 L436.66,203.60 L439.72,204.57 L442.77,205.54 L445.83,206.49 L448.89,207.44 L451.95,208.37 L455.01,209.30 L458.07,210.21 L461.13,211.11 L464.19,212.01 L467.25,212.89 L470.31,213.77 L473.36,214.64 L476.42,215.49 L479.48,216.34 L482.54,217.18" stroke="#ff0000"/>
<path d="M182.76,178.89 L185.82,164.50 L188.88,156.21 L191.94,150.46 L195.00,146.14 L198.05,142.75 L201.11,140.03 L204.17,137.80 L207.23,135.98 L210.29,134.48 L213.35,133.26 L216.41,132.27 L219.47,131.48 L222.53,130.87 L225.58,130.42 L228.64,130.11 L231.70,129.93 L234.76,129.86 L237.82,129.90 L240.88,130.03 L243.94,130.24 L247.00,130.53 L250.06,130.89 L253.12,131.32 L256.18,131.80 L259.23,132.34 L262.29,132.92 L265.35,133.55 L268.41,134.22 L271.47,134.92 L274.53,135.65 L277.59,136.42 L280.65,137.21 L283.71,138.02 L286.76,138.85 L289.82,139.71 L292.88,140.57 L295.94,141.46 L299.00,142.35 L302.06,143.26 L305.12,144.18 L308.18,145.10 L311.24,146.03 L314.30,146.97 L317.36,147.92 L320.41,148.86 L323.47,149.81 L326.53,150.76 L329.59,151.71 L332.65,152.67 L335.71,153.62 L338.77,154.57 L341.83,155.52 L344.89,156.47 L347.94,157.42 L351.00,158.36 L354.06,159.30 L357.12,160.24 L360.18,161.17 L363.24,162.10 L366.30,163.03 L369.36,163.95 L372.42,164.87 L375.48,165.78 L378.53,166.69 L381.59,167.59 L384.65,168.49 L387.71,169.39 L390.77,170.27 L393.83,171.16 L396.89,172.03 L399.95,172.90 L403.01,173.77 L406.07,174.63 L409.12,175.48 L412.18,176.33 L415.24,177.18 L418.30,178.01 L421.36,178.85 L424.42,179.67 L427.48,180.49 L430.54,181.31 L433.60,182.12 L436.66,182.92 L439.72,183.72 L442.77,184.51 L445.83,185.30 L448.89,186.08 L451.95,186.86 L455.01,187.63 L458.07,188.39 L461.13,189.15 L464.19,189.91 L467.25,190.65 L470.31,191.40 L473.36,192.14 L476.42,192.87 L479.48,193.60 L482.54,194.32" stroke="#0000ff"/>
<path d="M182.76,225.72 L185.82,211.25 L188.88,202.83 L191.94,196.89 L195.00,192.34 L198.05,188.67 L201.11,185.61 L204.17,183.00 L207.23,180.75 L210.29,178.79 L213.35,177.06 L216.41,175.53 L219.47,174.16 L222.53,172.95 L225.58,171.86 L228.64,170.89 L231.70,170.02 L234.76,169.25 L237.82,168.56 L240.88,167.95 L243.94,167.41 L247.00,166.94 L250.06,166.52 L253.12,166.17 L256.18,165.87 L259.23,165.62 L262.29,165.41 L265.35,165.25 L268.41,165.14 L271.47,165.06 L274.53,165.01 L277.59,165.00 L280.65,165.03 L283.71,165.08 L286.76,165.17 L289.82,165.28 L292.88,165.42 L295.94,165.58 L299.00,165.77 L302.06,165.98 L305.12,166.21 L308.18,166.46 L311.24,166.73 L314.30,167.02 L317.36,167.32 L320.41,167.64 L323.47,167.98 L326.53,168.33 L329.59,168.69 L332.65,169.07 L335.71,169.46 L338.77,169.86 L341.83,170.27 L344.89,170.69 L347.94,171.12 L351.00,171.56 L354.06,172.01 L357.12,172.46 L360.18,172.93 L363.24,173.40 L366.30,173.88 L369.36,174.36 L372.42,174.85 L375.48,175.34 L378.53,175.84 L381.59,176.35 L384.65,176.86 L387.71,177.37 L390.77,177.88 L393.83,178.40 L396.89,178.93 L399.95,179.45 L403.01,179.98 L406.07,180.51 L409.12,181.04 L412.18,181.58 L415.24,182.12 L418.30,182.65 L421.36,183.19 L424.42,183.73 L427.48,184.28 L430.54,184.82 L433.60,185.36 L436.66,185.90 L439.72,186.45 L442.77,186.99 L445.83,187.54 L448.89,188.08 L451.95,188.63 L455.01,189.17 L458.07,189.71 L461.13,190.26 L464.19,190.80 L467.25,191.34 L470.31,191.88 L473.36,192.42 L476.42,192.96 L479.48,193.50 L482.54,194.04" stroke="#000000"/>
</g>
<text class="itk" x="179.4" y="243.3" text-anchor="middle">0</text>
<text class="itk" x="240.6" y="243.3" text-anchor="middle">0.02</text>
<text class="itk" x="301.8" y="243.3" text-anchor="middle">0.04</text>
<text class="itk" x="362.9" y="243.3" text-anchor="middle">0.06</text>
<text class="itk" x="424.1" y="243.3" text-anchor="middle">0.08</text>
<text class="itk" x="485.3" y="243.3" text-anchor="middle">0.1</text>
<text class="ser" font-style="italic" font-size="23.4" x="324.6" y="264.3">ψ</text>
<g transform="translate(168.6,137.8) rotate(-90)"><text class="ser" font-style="italic" font-size="23" x="0" y="0">P</text><text class="ser" font-style="italic" font-size="16.8" x="14" y="2.5">N</text></g>
<rect x="523.7" y="24.6" width="143.1" height="86.1" fill="#fff" stroke="#333333" stroke-width="1.4"/>
<path d="M529.5,40.40 H583.4" stroke="#ff0000" stroke-width="2.6" fill="none"/>
<text class="ser" font-size="22.6" letter-spacing="0.75" stroke="#1a1a1a" stroke-width="0.3" x="588.3" y="46.9">h=1000</text>
<path d="M529.5,67.35 H583.4" stroke="#0000ff" stroke-width="2.6" fill="none"/>
<text class="ser" font-size="22.6" letter-spacing="0.75" stroke="#1a1a1a" stroke-width="0.3" x="588.3" y="73.8">h=4000</text>
<path d="M529.5,94.30 H583.4" stroke="#000000" stroke-width="2.6" fill="none"/>
<text class="ser" font-size="22.6" letter-spacing="0.75" stroke="#1a1a1a" stroke-width="0.3" x="588.3" y="100.8">h=7000</text>
</svg></body></html>
